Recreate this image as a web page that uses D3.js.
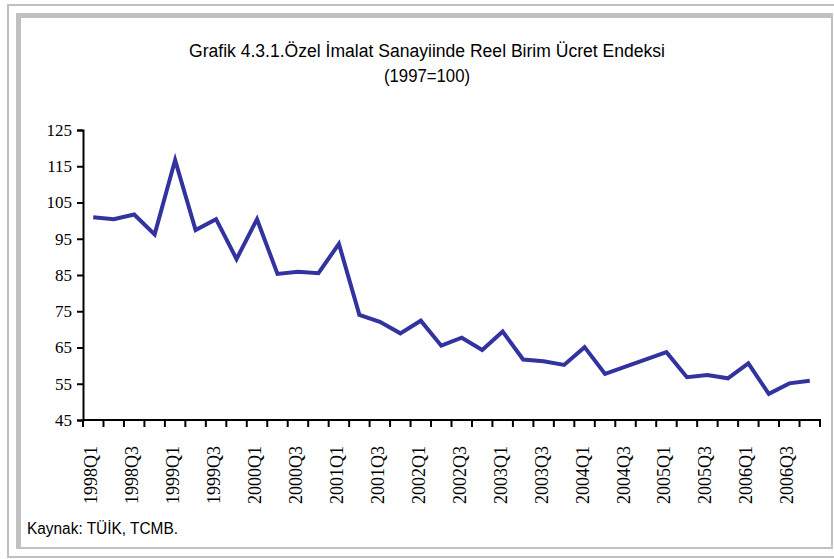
<!DOCTYPE html>
<html><head><meta charset="utf-8">
<script src="https://cdn.jsdelivr.net/npm/d3@7"></script>
<style>html,body{margin:0;padding:0;background:#fff;}svg{display:block;}</style>
</head><body>
<svg id="c" width="834" height="559"></svg>
<script>
const titleLines = ["Grafik 4.3.1.Özel İmalat Sanayiinde Reel Birim Ücret Endeksi", "(1997=100)"];
const sourceText = "Kaynak: TÜİK, TCMB.";
const years = [1998,1999,2000,2001,2002,2003,2004,2005,2006];
const quarters = years.flatMap(y => [1,2,3,4].map(q => y + "Q" + q));
const values = [100.9,100.4,101.7,96.2,116.7,97.4,100.4,89.4,
                100.4,85.3,85.9,85.5,93.6,74.0,72.1,68.9,
                72.4,65.5,67.7,64.3,69.4,61.7,61.2,60.2,
                65.1,57.7,59.7,61.7,63.7,56.8,57.4,56.5,
                60.6,52.2,55.1,55.8];
const yTicks = [45,55,65,75,85,95,105,115,125];

const svg = d3.select("#c");
const grey = "#c0c0c0";
// outer frame lines
svg.append("path").attr("d","M8,558 L8,5 L834,5").attr("fill","none").attr("stroke",grey).attr("stroke-width",2);
svg.append("line").attr("x1",8).attr("x2",834).attr("y1",557).attr("y2",557).attr("stroke",grey).attr("stroke-width",2);
// inner frame: thick top/left, thin right/bottom
svg.append("path").attr("d","M18.5,548 L18.5,15.5 L832,15.5").attr("fill","none").attr("stroke",grey).attr("stroke-width",5);
svg.append("path").attr("d","M16,548 L832,548 L832,13").attr("fill","none").attr("stroke",grey).attr("stroke-width",2);

const x = d3.scaleBand().domain(quarters).range([83,820]).padding(0);
const y = d3.scaleLinear().domain([45,125]).range([420,130]);

const g = svg.append("g");
// y axis
const yAxis = d3.axisLeft(y).tickValues(yTicks).tickSize(6).tickPadding(5);
const ya = g.append("g").attr("transform","translate(83,0)").call(yAxis);
ya.select(".domain").attr("stroke","#000").attr("stroke-width",2);
ya.selectAll(".tick line").attr("stroke","#000").attr("stroke-width",2);
ya.selectAll(".tick text").attr("font-family","'Liberation Serif', 'Times New Roman', serif").attr("font-size",17).attr("fill","#000");

// x axis (ticks at category boundaries)
const xa = g.append("g");
xa.append("line").attr("x1",83).attr("x2",821).attr("y1",420).attr("y2",420).attr("stroke","#000").attr("stroke-width",2);
const bounds = quarters.map(q => x(q)).concat([x.range()[1]]);
xa.selectAll("line.tk").data(bounds).join("line").attr("class","tk")
  .attr("x1",d=>d).attr("x2",d=>d).attr("y1",420).attr("y2",427).attr("stroke","#000").attr("stroke-width",2);
xa.selectAll("text").data(quarters.filter((q,i)=>i%2===0)).join("text")
  .attr("transform", d => `translate(${x(d)+x.bandwidth()/2+4},446) rotate(-90)`)
  .attr("text-anchor","end")
  .attr("font-family","'Liberation Serif', 'Times New Roman', serif").attr("font-size",18).attr("fill","#000")
  .text(d=>d);

// line
const line = d3.line().x((d,i)=>x(quarters[i])+x.bandwidth()/2).y(d=>y(d));
g.append("path").datum(values).attr("d",line).attr("fill","none").attr("stroke","#3333a0").attr("stroke-width",4).attr("stroke-linejoin","miter");

// title
const sans = "'Liberation Sans', Arial, sans-serif";
svg.append("text").attr("x",427).attr("y",57).attr("text-anchor","middle")
  .attr("font-family",sans).attr("font-size",18).attr("textLength",476).attr("lengthAdjust","spacingAndGlyphs")
  .attr("fill","#000").text(titleLines[0]);
svg.append("text").attr("x",427).attr("y",82).attr("text-anchor","middle")
  .attr("font-family",sans).attr("font-size",18).attr("textLength",86).attr("lengthAdjust","spacingAndGlyphs")
  .attr("fill","#000").text(titleLines[1]);
svg.append("text").attr("x",27).attr("y",534)
  .attr("font-family",sans).attr("font-size",16).attr("textLength",151).attr("lengthAdjust","spacingAndGlyphs")
  .attr("fill","#000").text(sourceText);
</script>
</body></html>
